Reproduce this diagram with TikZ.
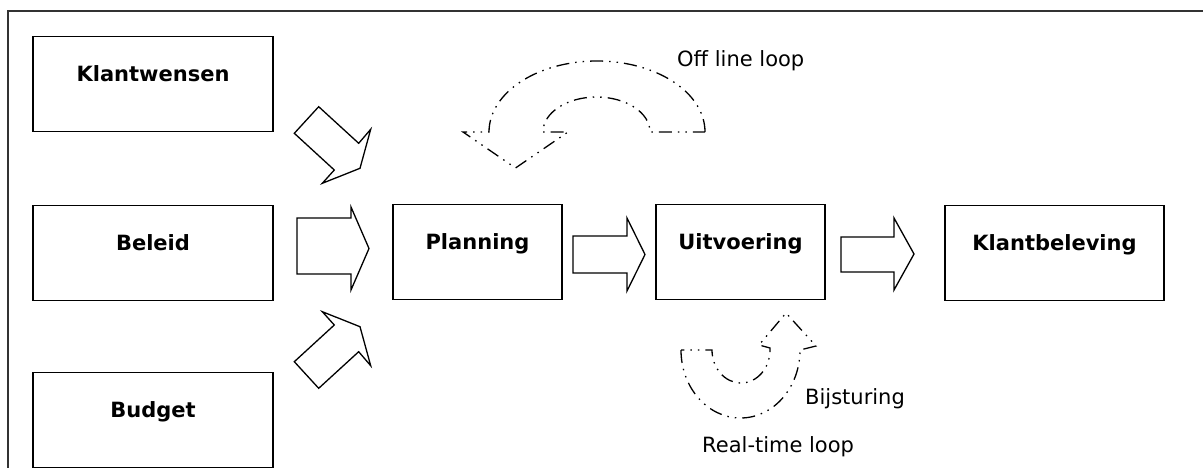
\documentclass[tikz,border=0pt]{standalone}
\usepackage{fontspec}
\setmainfont{DejaVu Sans}
\begin{document}
\begin{tikzpicture}[x=1pt,y=1pt,
  box/.style={draw, line width=1.5pt, inner sep=0pt, minimum height=95pt},
  caption/.style={font=\fontsize{21}{25}\selectfont\bfseries, text height=15pt, text depth=5pt, inner sep=0pt},
  blockarrow/.style={draw, line width=1.3pt, line join=miter},
  loopline/.style={draw, line width=1.3pt, dash pattern=on 13pt off 6pt on 1.5pt off 6pt on 1.5pt off 6pt},
  note/.style={font=\fontsize{21}{25}\selectfont, inner sep=0pt, anchor=base west}]
\useasboundingbox (0,0) rectangle (1203,-468);

% frame
\draw[line width=1.8pt, black!80] (8,-472) -- (8,-11) -- (1210,-11);

% boxes
\node[box, minimum width=240pt] (kw) at (153,-84) {};
\node[box, minimum width=240pt] (bel) at (153,-253) {};
\node[box, minimum width=240pt] (bud) at (153,-420) {};
\node[box, minimum width=169pt] (plan) at (477.5,-252) {};
\node[box, minimum width=169pt] (uitv) at (740.5,-252) {};
\node[box, minimum width=219pt] (kbel) at (1054.5,-253) {};

\node[caption] (kw-t) at ([yshift=7.5pt]kw.center) {Klantwensen};
\node[caption] (bel-t) at ([yshift=7.5pt]bel.center) {Beleid};
\node[caption] (bud-t) at ([yshift=7.5pt]bud.center) {Budget};
\node[caption] (plan-t) at ([yshift=7.5pt]plan.center) {Planning};
\node[caption] (uitv-t) at ([yshift=7.5pt]uitv.center) {Uitvoering};
\node[caption] (kbel-t) at ([yshift=7.5pt]kbel.center) {Klantbeleving};

% block arrows
\draw[blockarrow] (294.3,-133.3) -- (318.7,-106.7) -- (358.7,-143.3) -- (370.7,-129.3)
  -- (360,-168.3) -- (322.3,-183.3) -- (334.3,-170) -- cycle;
\draw[blockarrow] (294.3,-361.7) -- (318.7,-388.3) -- (358.7,-351.7) -- (370.7,-365.7)
  -- (360,-326.7) -- (322.3,-311.7) -- (334.3,-325) -- cycle;
\draw[blockarrow] (297,-218) -- (351,-218) -- (351,-207) -- (369,-248.5)
  -- (351,-290) -- (351,-274) -- (297,-274) -- cycle;
\draw[blockarrow] (573,-236) -- (627,-236) -- (627,-218) -- (645,-254.5)
  -- (627,-291) -- (627,-273) -- (573,-273) -- cycle;
\draw[blockarrow] (841,-237) -- (894,-237) -- (894,-218) -- (914,-254)
  -- (894,-290) -- (894,-272) -- (841,-272) -- cycle;

% off line loop
\draw[loopline] (705,-132) arc[start angle=0, end angle=180, x radius=108, y radius=71]
  -- (463,-132) -- (515.5,-168) -- (568,-132) -- (543,-132)
  arc[start angle=180, end angle=0, x radius=53.5, y radius=35] -- cycle;

% real-time loop
\draw[loopline] (681,-350) arc[start angle=180, end angle=360, x radius=59.5, y radius=68]
  -- (816,-346) -- (786,-313) -- (759,-345) -- (770,-348) -- (770,-350)
  arc[start angle=0, end angle=-180, x radius=29, y radius=33] -- cycle;

\node[note] (offline) at (677,-67) {Off line loop};
\node[note] (bijst) at (805,-404) {Bijsturing};
\node[note] (realtime) at (702,-452) {Real-time loop};
\end{tikzpicture}
\end{document}
